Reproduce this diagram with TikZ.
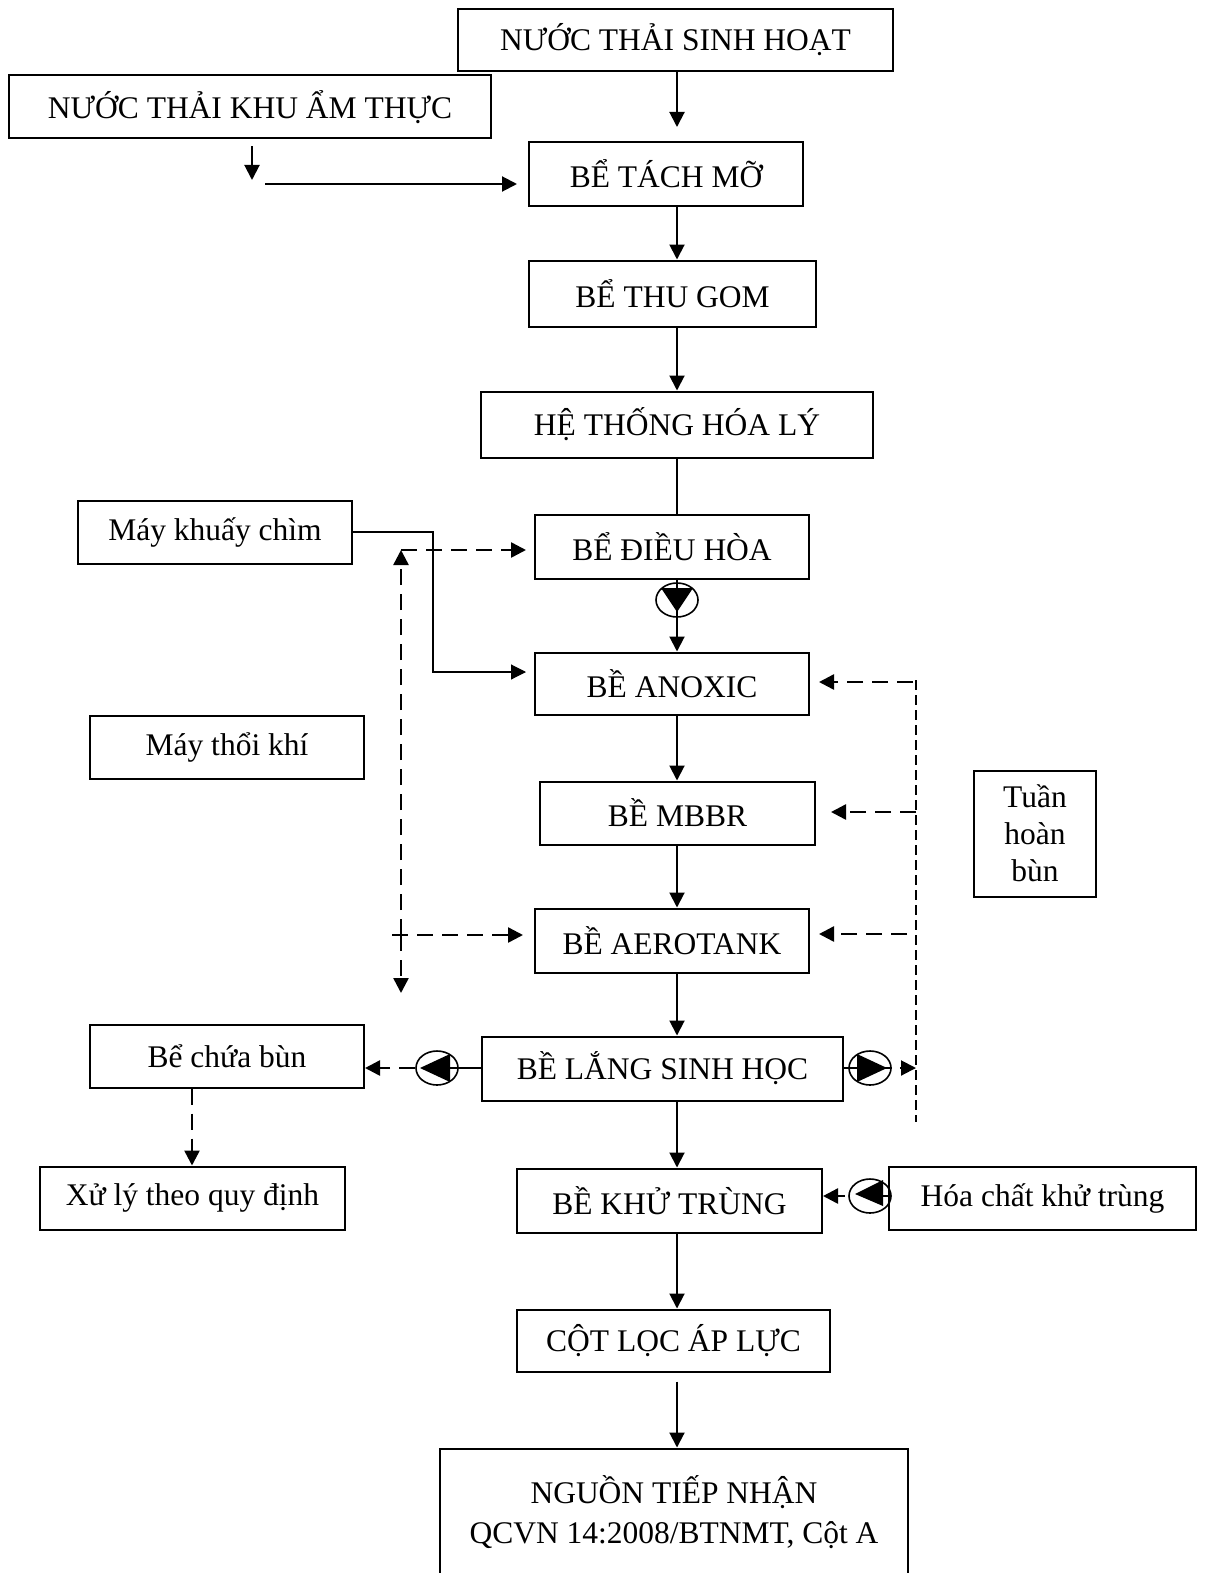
\documentclass[tikz,border=0pt]{standalone}
\usepackage{fontspec}
\setmainfont{Liberation Serif}
\usetikzlibrary{arrows.meta,shapes.geometric}
\begin{document}
\begin{tikzpicture}[x=1pt,y=-1pt,
  box/.style={draw,line width=2pt,inner sep=0pt,align=center,font=\fontsize{31.5}{37}\selectfont},
  flow/.style={line width=2pt,-{Triangle[length=15pt,width=15pt]}},
  thinflow/.style={line width=1.1pt,-{Triangle[length=15pt,width=15pt]}},
  dflow/.style={line width=2.5pt,dash pattern=on 16pt off 9pt,-{Triangle[length=15pt,width=15pt]}},
  pump/.style={draw,ellipse,line width=1.6pt,minimum width=42pt,minimum height=34pt,inner sep=0pt},
]
\useasboundingbox (0,0) rectangle (1208,1573);
\fill[white] (0,0) rectangle (1208,1573);

% main boxes
\node[box,minimum width=435pt,minimum height=62pt] (nt) at (675.5,40) {NƯỚC THẢI SINH HOẠT};
\node[box,minimum width=482pt,minimum height=63pt] (kt) at (250,107) {NƯỚC THẢI KHU ẨM THỰC};
\node[box,minimum width=274pt,minimum height=63pt] (tm) at (666,174) {BỂ TÁCH MỠ};
\node[box,minimum width=287pt,minimum height=66pt] (tg) at (672.5,293.5) {BỂ THU GOM};
\node[box,minimum width=392pt,minimum height=66pt] (hl) at (677,424.5) {HỆ THỐNG HÓA LÝ};
\node[box,minimum width=274pt,minimum height=64pt] (dh) at (672,546.5) {BỂ ĐIỀU HÒA};
\node[box,minimum width=274pt,minimum height=62pt] (an) at (672,683.5) {BỀ ANOXIC};
\node[box,minimum width=275pt,minimum height=63pt] (mb) at (677.5,813) {BỀ MBBR};
\node[box,minimum width=274pt,minimum height=64pt] (ae) at (672,940.5) {BỀ AEROTANK};
\node[box,minimum width=361pt,minimum height=64pt] (ls) at (662.5,1068.5) {BỀ LẮNG SINH HỌC};
\node[box,minimum width=305pt,minimum height=64pt] (kh) at (669.5,1200.5) {BỀ KHỬ TRÙNG};
\node[box,minimum width=313pt,minimum height=62pt] (cl) at (673.5,1340.5) {CỘT LỌC ÁP LỰC};
\node[box,minimum width=468pt,minimum height=128pt,font=\fontsize{31.5}{40}\selectfont] (ng) at (674,1512.5) {NGUỒN TIẾP NHẬN\\QCVN 14:2008/BTNMT, Cột A};

% side boxes
\node[box,minimum width=274pt,minimum height=63pt] (kc) at (215,532) {Máy khuấy chìm};
\node[box,minimum width=274pt,minimum height=63pt] (tk) at (227,747) {Máy thổi khí};
\node[box,minimum width=122pt,minimum height=126pt] (th) at (1035,833.5) {Tuần\\hoàn\\bùn};
\node[box,minimum width=274pt,minimum height=63pt] (bc) at (227,1056) {Bể chứa bùn};
\node[box,minimum width=305pt,minimum height=63pt] (xl) at (192.5,1198) {Xử lý theo quy định};
\node[box,minimum width=307pt,minimum height=63pt] (hc) at (1042.5,1198) {Hóa chất khử trùng};

% coordinates
\coordinate (m) at (677,0);
\coordinate (a1) at (677,127);
\coordinate (a2) at (252,180);
\coordinate (h1) at (265,184);
\coordinate (lt) at (401,550);
\coordinate (lj) at (401,935);
\coordinate (lj0) at (392,935);
\coordinate (lb) at (401,993);
\coordinate (kj) at (433,672);
\coordinate (rt) at (916,680);
\coordinate (rb) at (916,1122);
\coordinate (r1) at (913,682);
\coordinate (r2) at (916,812);
\coordinate (r3) at (907,934);
\coordinate (bx) at (192,0);

% pumps
\node[pump] (p1) at (677,600) {};
\node[pump] (p2) at (437,1068) {};
\node[pump] (p3) at (870,1068) {};
\node[pump] (p4) at (870,1196) {};

% main flow
\draw[flow] (nt.south -| a1) -- (a1);
\draw[flow,shorten <=7pt] (kt.south -| a2) -- (a2);
\draw[flow,shorten >=11pt] (h1) -- (h1 -| tm.west);
\draw[flow] (tm.south -| m) -- (tg.north -| m);
\draw[flow] (tg.south -| m) -- (hl.north -| m);
\draw[line width=2pt] (hl.south -| m) -- (dh.north -| m);
\draw[flow] (dh.south -| m) -- (an.north -| m);
\draw[flow] (an.south -| m) -- (mb.north -| m);
\draw[flow] (mb.south -| m) -- (ae.north -| m);
\draw[flow] (ae.south -| m) -- (ls.north -| m);
\draw[flow] (ls.south -| m) -- (kh.north -| m);
\draw[flow] (kh.south -| m) -- (cl.north -| m);
\draw[flow,shorten <=9pt] (cl.south -| m) -- (ng.north -| m);

% pump triangles
\fill (p1.center) ++(-16,-12) -- ++(32,0) -- ++(-16,24) -- cycle;
\fill (p2.center) ++(-17,0) -- ++(30,-14) -- ++(0,28) -- cycle;
\fill (p3.center) ++(17,0) -- ++(-30,-14) -- ++(0,28) -- cycle;
\fill (p4.center) ++(-15,-2) -- ++(28,-14) -- ++(0,26) -- cycle;

% sludge lines
\draw[line width=2pt] (ls.west |- p2) -- (p2.center);
\draw[dflow] (p2.west) -- (p2.west -| bc.east);
\draw[line width=2pt] (ls.east |- p3) -- (p3.east);
\draw[flow,shorten <=8pt] (p3.east) -- (p3.east -| rt);
\draw[dflow] (bc.south -| bx) -- (xl.north -| bx);

% disinfectant
\draw[line width=2pt] (hc.west |- p4) -- (p4.center);
\draw[dflow,shorten <=3pt] (p4.west) -- (p4.west -| kh.east);

% mixer
\draw[thinflow,shorten >=8pt] (kc.east) -| (kj) -- (kj -| an.west);

% air (dashed, left)
\draw[dflow] (lj) -- (lt);
\draw[dflow,shorten >=8pt] (lt) -- (lt -| dh.west);
\draw[dflow,shorten >=11pt] (lj0) -- (lj0 -| ae.west);
\draw[dflow] (lj) -- (lb);

% recirculation (dashed, right)
\draw[line width=1.5pt,dash pattern=on 10pt off 5pt] (rt) -- (rb);
\draw[dflow,shorten >=9pt] (r1) -- (r1 -| an.east);
\draw[dflow,shorten >=15pt] (r2) -- (r2 -| mb.east);
\draw[dflow,shorten >=9pt] (r3) -- (r3 -| ae.east);
\end{tikzpicture}
\end{document}
